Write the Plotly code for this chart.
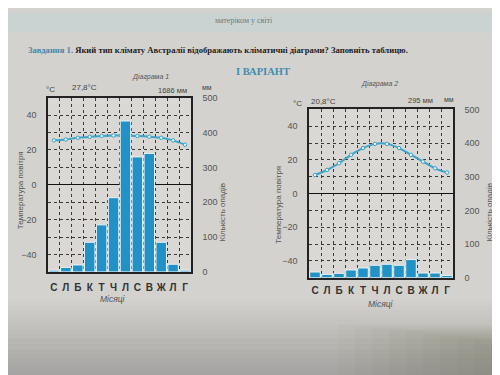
import plotly.graph_objects as go

months = ["С", "Л", "Б", "К", "Т", "Ч", "Л", "С", "В", "Ж", "Л", "Г"]
month_pos = list(range(1, 13))

temp1 = [25.5, 26, 27, 27.5, 28, 28.3, 28.3, 28, 27.6, 27, 25.5, 23]
precip1 = [5, 13, 20, 85, 135, 213, 433, 330, 340, 85, 22, 5]
temp2 = [11, 14, 18, 23, 27, 29.5, 29.5, 27, 23, 19, 15, 12.5]
precip2 = [17, 10, 13, 23, 29, 37, 40, 37, 54, 14, 14, 7]

temp_ticks = [-40, -20, 0, 20, 40]
precip_ticks = [0, 100, 200, 300, 400, 500]

W, H = 500, 375
BAR = "#2291c6"
LINE = "#3ea3c9"
TXT = "#3a3a3a"
GRID = "#3a3a3a"
DASH = "3px,3px"
FONT = "Liberation Sans"

def px(x):
    return x / W

def py(y):
    return 1 - y / H

fig = go.Figure()

def add_diagram(n, temp, precip):
    xa = "x" if n == 1 else "x2"
    ya_t = "y" if n == 1 else "y3"
    ya_p = "y2" if n == 1 else "y4"
    fig.add_trace(go.Bar(x=month_pos, y=precip, xaxis=xa, yaxis=ya_p,
                         marker=dict(color=BAR, line=dict(color="#e8f2f6", width=1)),
                         showlegend=False))
    fig.add_trace(go.Scatter(x=month_pos, y=temp, xaxis=xa, yaxis=ya_t,
                             mode="lines+markers",
                             line=dict(color=LINE, width=2, shape="spline"),
                             marker=dict(size=3.5, color="#e6f3f8",
                                         line=dict(color=LINE, width=1)),
                             showlegend=False))

add_diagram(1, temp1, precip1)
add_diagram(2, temp2, precip2)

def xaxis_cfg(domain, anchor, standoff):
    return dict(domain=domain, anchor=anchor, range=[0.5, 12.5],
                tickmode="array", tickvals=month_pos, ticktext=months,
                showgrid=False, zeroline=False, showline=True, linecolor="#222",
                linewidth=1.5, mirror=True, ticks="", ticklabelstandoff=standoff,
                tickfont=dict(family=FONT, size=10, color="#333", weight="bold"),
                minor=dict(tickmode="array", tickvals=[i + 0.5 for i in range(1, 12)],
                           showgrid=True, gridcolor=GRID, griddash=DASH, gridwidth=1,
                           ticks=""))

def ytemp_cfg(domain, anchor):
    return dict(domain=domain, anchor=anchor, range=[-50, 50],
                tickmode="array", tickvals=temp_ticks,
                showgrid=True, gridcolor=GRID, griddash=DASH, gridwidth=1,
                zeroline=True, zerolinecolor="#111", zerolinewidth=1.3,
                showline=True, linecolor="#222", linewidth=1.5, ticks="",
                ticklabelstandoff=8,
                tickfont=dict(family=FONT, size=9, color="#555"),
                minor=dict(tickmode="array", tickvals=[-30, -10, 10, 30],
                           showgrid=True, gridcolor=GRID, griddash=DASH,
                           gridwidth=1, ticks=""))

def yprec_cfg(domain, anchor, overlay):
    return dict(domain=domain, anchor=anchor, overlaying=overlay, side="right",
                range=[0, 500], tickmode="array", tickvals=precip_ticks,
                showgrid=False, zeroline=False, showline=True, linecolor="#222",
                linewidth=1.5, ticks="", ticklabelstandoff=8,
                tickfont=dict(family=FONT, size=9, color="#555"))

d1x = [px(40), px(183)]
d1y = [py(266), py(87)]
d2x = [px(301), px(445)]
d2y = [py(272), py(99)]

fig.update_layout(
    width=W, height=H, autosize=False,
    margin=dict(l=0, r=0, t=0, b=0),
    paper_bgcolor="#d3d2ce", plot_bgcolor="#d9d8d4",
    bargap=0.12,
    xaxis=xaxis_cfg(d1x, "y", 5),
    yaxis=ytemp_cfg(d1y, "x"),
    yaxis2=yprec_cfg(d1y, "x", "y"),
    xaxis2=xaxis_cfg(d2x, "y3", 3),
    yaxis3=ytemp_cfg(d2y, "x2"),
    yaxis4=yprec_cfg(d2y, "x2", "y3"),
)

# page background shading (photo), soft gradient toward the bottom
def shade(x0, x1, y0, y1, color):
    fig.add_shape(type="rect", xref="paper", yref="paper", x0=px(x0), x1=px(x1),
                  y0=py(y1), y1=py(y0), fillcolor=color, line=dict(width=0),
                  layer="below")

shade(0, 500, 0, 20, "#cbd3d2")
for i in range(16):
    y0 = 295 + i * 5
    shade(0, 500, y0, 375, "rgba(20,15,10,0.012)")
for i in range(10):
    x0 = 330 + i * 17
    shade(x0, 500, 320 + i * 2, 375, "rgba(50,35,25,0.018)")

def ann(text, x, y, size=8, color=TXT, angle=0, family=FONT, xanchor="center", **kw):
    fig.add_annotation(text=text, x=px(x), y=py(y), xref="paper", yref="paper",
                       showarrow=False, textangle=angle, xanchor=xanchor,
                       yanchor="middle",
                       font=dict(size=size, color=color, family=family), **kw)

ann("матеріком у світі", 205, 8, size=8, color="#6b7a7a", family="Liberation Serif", xanchor="left")
ann("<b><span style='color:#4a86a6'>Завдання 1.</span> Який тип клімату Австралії відображають кліматичні діаграми? Заповніть таблицю.</b>",
    18, 38, size=8.6, color="#1e1e1e", family="Liberation Serif", xanchor="left")
ann("<b>І ВАРІАНТ</b>", 255, 60, size=10.5, color="#3f8db0", family="Liberation Serif")
ann("<i>Діаграма 1</i>", 142, 66, size=7, color="#555")
ann("<i>Діаграма 2</i>", 371, 73, size=7, color="#555")

# diagram 1 labels
ann("°C", 42, 79, size=8, color="#444")
ann("27,8°C", 76, 77, size=8, color="#444")
ann("1686 мм", 164, 80, size=7.5, color="#444")
ann("мм", 199, 77, size=7, color="#444")
ann("Температура повітря", 12, 182, size=8, color="#555", angle=-90)
ann("Кількість опадів", 215, 205, size=8, color="#555", angle=-90)
ann("<i>Місяці</i>", 105, 294, size=8.5, color="#555")

# diagram 2 labels
ann("°C", 289, 93, size=8, color="#444")
ann("20,8°C", 315, 91, size=8, color="#444")
ann("295 мм", 412, 90, size=7.5, color="#444")
ann("мм", 441, 89, size=7, color="#444")
ann("Температура повітря", 271, 197, size=8, color="#555", angle=-90)
ann("Кількість опадів", 482, 205, size=8, color="#555", angle=-90)
ann("<i>Місяці</i>", 373, 299, size=8.5, color="#555")

fig.write_html("out.html")
